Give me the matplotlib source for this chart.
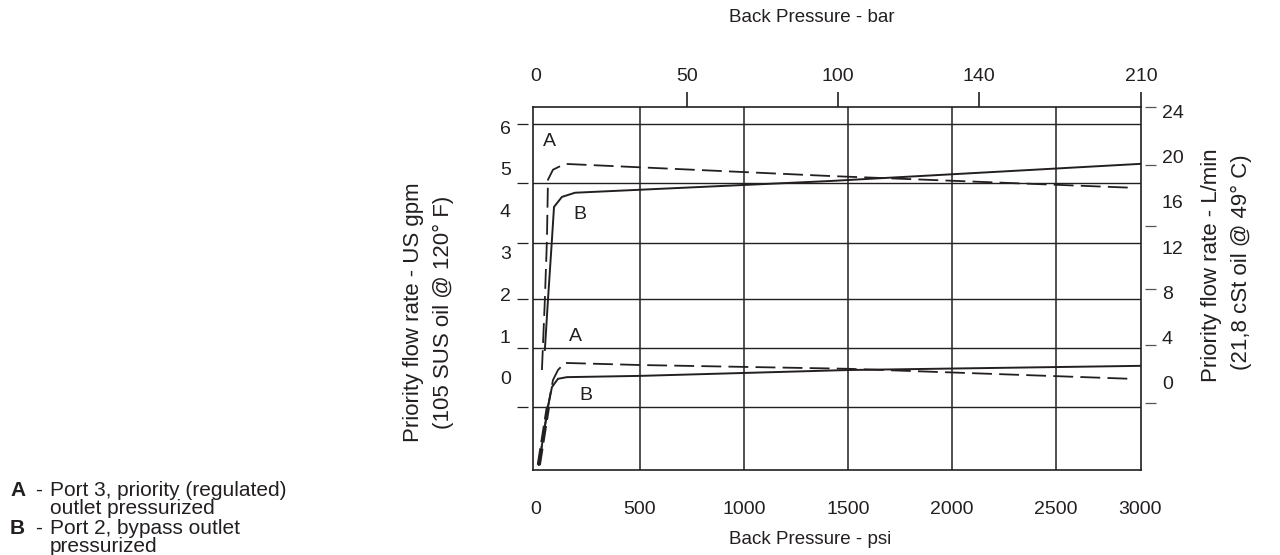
import matplotlib
matplotlib.use("Agg")
import matplotlib.pyplot as plt
from matplotlib.transforms import blended_transform_factory

plt.rcParams['font.family'] = ['Liberation Sans', 'DejaVu Sans']

# --- data (x in psi, y in US gpm) ---
upA_psi = [29, 43, 53, 58, 82, 139, 1413, 2861]
upA_gpm = [0.19, 1.87, 3.30, 4.74, 4.98, 5.12, 4.83, 4.55]

upB_psi = [43, 58, 77, 87, 125, 188, 1413, 2905]
upB_gpm = [0.67, 1.87, 3.30, 4.09, 4.33, 4.43, 4.71, 5.12]

lowA_psi = [14, 58, 82, 106, 139, 500, 1500, 2861]
lowA_gpm = [-2.08, -0.69, -0.05, 0.19, 0.36, 0.31, 0.22, -0.02]

lowB_psi = [14, 58, 77, 106, 149, 500, 1500, 2905]
lowB_gpm = [-2.08, -0.69, -0.22, -0.02, 0.02, 0.05, 0.19, 0.29]

psi_labels = ["0", "500", "1000", "1500", "2000", "2500", "3000"]
psi_label_pos = [0, 500, 1000, 1500, 2000, 2500, 2905]
psi_grid = [500, 1000, 1500, 2000, 2500]

bar_labels = ["0", "50", "100", "140", "210"]
bar_label_pos = [0, 725, 1450, 2130, 2909]

gpm_labels = ["6", "5", "4", "3", "2", "1", "0"]
gpm_values = [6, 5, 4, 3, 2, 1, 0]
gpm_grid = [6.08, 4.67, 3.23, 1.89, 0.72, -0.69]

lmin_labels = ["24", "20", "16", "12", "8", "4", "0"]
lmin_values = [24, 20, 16, 12, 8, 4, 0]
lmin_marks = [24.4, 19.2, 13.9, 8.3, 3.35, -1.77]

ink = "#231f20"

fig = plt.figure(figsize=(12.8, 5.55), dpi=100)
ax = fig.add_axes([0.4164, 0.1532, 0.475, 0.654])
ax.set_xlim(-14, 2909)
ax.set_ylim(-2.20, 6.48)

# grid
for g in gpm_grid:
    ax.axhline(g, color=ink, lw=1.0, zorder=1)
for g in psi_grid:
    ax.axvline(g, color=ink, lw=1.1, zorder=1)
for s in ax.spines.values():
    s.set_color(ink)
    s.set_linewidth(1.2)

dash = (0, (11, 4))
ax.plot(upA_psi, upA_gpm, color=ink, lw=1.3, ls=dash, zorder=3)
ax.plot(upB_psi, upB_gpm, color=ink, lw=1.4, zorder=3)
ax.plot(lowA_psi, lowA_gpm, color=ink, lw=1.3, ls=dash, zorder=3)
ax.plot(lowA_psi[:2], lowA_gpm[:2], color=ink, lw=3.0, ls=(0, (4, 1.5)), zorder=3)
ax.plot(lowB_psi, lowB_gpm, color=ink, lw=1.4, zorder=3)

fs = 14
ax.text(67, 5.65, "A", fontsize=fs, color=ink, ha="center", va="center")
ax.text(212, 3.90, "B", fontsize=fs, color=ink, ha="center", va="center")
ax.text(188, 0.98, "A", fontsize=fs, color=ink, ha="center", va="center")
ax.text(240, -0.41, "B", fontsize=fs, color=ink, ha="center", va="center")

# bottom axis (psi)
ax.set_xticks(psi_label_pos, psi_labels)
ax.tick_params(axis="x", length=0, pad=22, labelsize=fs, colors=ink)

# left axis (gpm)
ax.set_yticks(gpm_values, gpm_labels)
ax.tick_params(axis="y", length=0, pad=16, labelsize=fs, colors=ink)
trL = blended_transform_factory(ax.transAxes, ax.transData)
ax.hlines(gpm_grid, -0.027, -0.009, transform=trL, color=ink, lw=0.9, clip_on=False)

# top axis (bar)
axt = ax.twiny()
axt.set_xlim(ax.get_xlim())
axt.set_xticks(bar_label_pos, bar_labels)
axt.tick_params(axis="x", length=11, width=1.2, pad=5, labelsize=fs, colors=ink)
axt.xaxis.get_major_ticks()[0].tick2line.set_visible(False)
for s in axt.spines.values():
    s.set_visible(False)

# right axis (L/min)
axr = ax.twinx()
axr.set_ylim(-7.68, 24.36)
axr.set_yticks(lmin_values, lmin_labels)
axr.tick_params(axis="y", length=0, pad=15, labelsize=fs, colors=ink)
for s in axr.spines.values():
    s.set_visible(False)
trR = blended_transform_factory(axr.transAxes, axr.transData)
axr.hlines(lmin_marks, 1.007, 1.025, transform=trR, color="#555555", lw=0.9, clip_on=False)

# axis titles
tfs = 13.5
lfs = 16
fig.text(812 / 1280, 1 - 18 / 555, "Back Pressure - bar", fontsize=tfs, color=ink, ha="center", va="center")
fig.text(810 / 1280, 1 - 540 / 555, "Back Pressure - psi", fontsize=tfs, color=ink, ha="center", va="center")
fig.text(414 / 1280, 1 - 312 / 555, "Priority flow rate - US gpm", fontsize=lfs, color=ink,
         ha="center", va="center", rotation=90)
fig.text(443 / 1280, 1 - 312 / 555, "(105 SUS oil @ 120\u00b0 F)", fontsize=lfs, color=ink,
         ha="center", va="center", rotation=90)
fig.text(1211 / 1280, 1 - 265 / 555, "Priority flow rate - L/min", fontsize=lfs, color=ink,
         ha="center", va="center", rotation=90)
fig.text(1241 / 1280, 1 - 262 / 555, "(21,8 cSt oil @ 49\u00b0 C)", fontsize=lfs, color=ink,
         ha="center", va="center", rotation=90)

# key
key_rows = [("A", "Port 3, priority (regulated)", 490),
            ("", "outlet pressurized", 509),
            ("B", "Port 2, bypass outlet", 528),
            ("", "pressurized", 546)]
kfs = 15
for letter, txt, py in key_rows:
    y = 1 - py / 555
    if letter:
        fig.text(10 / 1280, y, letter, fontsize=kfs, fontweight="bold", color=ink, va="center")
        fig.text(35 / 1280, y, "-", fontsize=kfs, color=ink, va="center")
    fig.text(50 / 1280, y, txt, fontsize=kfs, color=ink, va="center")

fig.savefig("out.png", dpi=100)
